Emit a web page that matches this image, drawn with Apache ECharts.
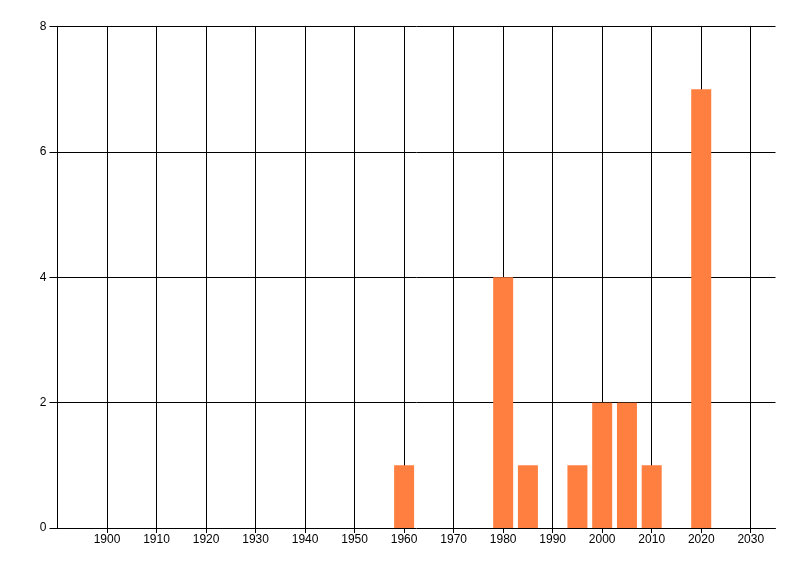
<!DOCTYPE html>
<html>
<head>
<meta charset="utf-8">
<script src="https://cdn.jsdelivr.net/npm/echarts@6/dist/echarts.min.js"></script>
<style>html,body{margin:0;padding:0;background:#fff;}#c{width:800px;height:576px;}</style>
</head>
<body>
<div id="c"></div>
<script>
const years = [1960, 1980, 1985, 1995, 2000, 2005, 2010, 2020];
const counts = [1, 4, 1, 1, 2, 2, 1, 7];
const xTicks = [1900, 1910, 1920, 1930, 1940, 1950, 1960, 1970, 1980, 1990, 2000, 2010, 2020, 2030];
const yTicks = [0, 2, 4, 6, 8];

const font = { fontFamily: 'Liberation Sans', fontSize: 12, color: '#000' };
const chart = echarts.init(document.getElementById('c'));
chart.setOption({
  animation: false,
  backgroundColor: '#fff',
  grid: { left: 57.5, right: 24.5, top: 26.5, bottom: 48, containLabel: false },
  xAxis: {
    type: 'value', min: 1890, max: 2035, interval: 10,
    axisLine: { show: true, onZero: false, lineStyle: { color: '#000', width: 1 } },
    axisTick: { show: true, length: 5, customValues: xTicks, lineStyle: { color: '#000' } },
    axisLabel: Object.assign({ margin: 6, customValues: xTicks, formatter: v => String(v) }, font),
    splitLine: { show: true, showMinLine: true, showMaxLine: true, lineStyle: { color: '#000', width: 1 } }
  },
  yAxis: {
    type: 'value', min: 0, max: 8, interval: 2,
    axisLine: { show: true, lineStyle: { color: '#000', width: 1 } },
    axisTick: { show: true, length: 8, lineStyle: { color: '#000' } },
    axisLabel: Object.assign({ margin: 11, customValues: yTicks, formatter: v => String(v) }, font),
    splitLine: { show: true, showMinLine: false, lineStyle: { color: '#000', width: 1 } }
  },
  series: [{
    type: 'bar',
    data: years.map((y, i) => [y, counts[i]]),
    barWidth: 20,
    itemStyle: { color: '#FF7F40' },
    z: 5
  }]
});
</script>
</body>
</html>
